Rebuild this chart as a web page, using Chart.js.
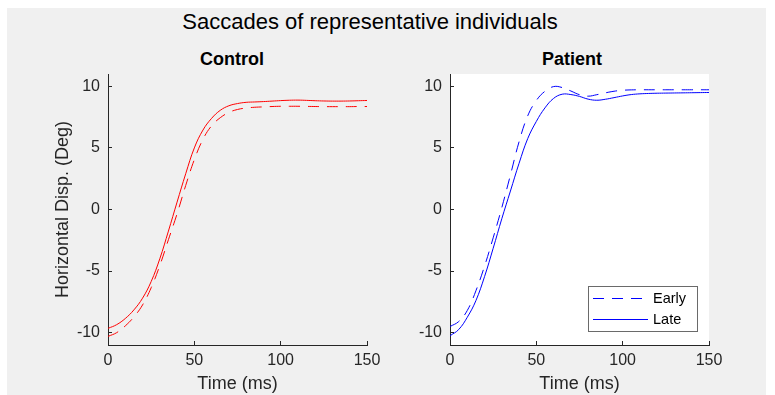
<!DOCTYPE html>
<html>
<head>
<meta charset="utf-8">
<script src="https://cdn.jsdelivr.net/npm/chart.js@4.4.1/dist/chart.umd.min.js"></script>
<style>
  html, body { margin: 0; padding: 0; background: #fff; }
  body { width: 775px; height: 395px; position: relative; overflow: hidden;
         font-family: 'Liberation Sans', Arial, Helvetica, sans-serif; }
  #figure { position: absolute; left: 7px; top: 8px; width: 759px; height: 387px; background: #f0f0f0; }
  .label { position: absolute; white-space: nowrap; transform: translateX(-50%); color: #000; }
  #suptitle { left: 370px; top: 9px; font-size: 22px; line-height: 26px; }
  .subtitle { top: 48px; font-size: 18px; line-height: 22px; font-weight: bold; }
  canvas { position: absolute; top: 0; }
</style>
</head>
<body>
<div id="figure"></div>
<div id="suptitle" class="label">Saccades of representative individuals</div>
<div class="label subtitle" style="left:232px">Control</div>
<div class="label subtitle" style="left:572px">Patient</div>
<canvas id="control" width="400" height="395" style="left:0"></canvas>
<canvas id="patient" width="385" height="395" style="left:390px"></canvas>
<script>
// time base of the traces (ms)
const timeMs = [0, 5, 10, 15, 20, 25, 30, 35, 40, 45, 50, 55, 60, 65, 70, 75,
                80, 85, 90, 95, 100, 105, 110, 115, 120, 125, 130, 135, 140, 145, 150];

// horizontal eye position (deg)
const controlEarly = [-10.3, -10.0, -9.45, -8.72, -7.75, -6.35, -4.55, -2.45, -0.35, 1.95, 4.05,
                      5.7, 6.8, 7.45, 7.88, 8.12, 8.24, 8.3, 8.33, 8.36, 8.38, 8.38, 8.38,
                      8.37, 8.36, 8.35, 8.35, 8.35, 8.35, 8.36, 8.36];
const controlLate = [-9.65, -9.35, -8.85, -8.15, -7.2, -5.85, -4.0, -1.75, 0.6, 2.9, 5.0,
                     6.45, 7.4, 8.05, 8.42, 8.6, 8.7, 8.73, 8.76, 8.8, 8.84, 8.87, 8.88,
                     8.86, 8.83, 8.81, 8.8, 8.8, 8.81, 8.83, 8.85];
const patientEarly = [-9.5, -9.1, -8.2, -6.6, -4.6, -2.3, 0.15, 2.8, 5.5, 7.6, 8.85,
                      9.6, 9.98, 9.9, 9.62, 9.32, 9.2, 9.32, 9.47, 9.6, 9.68, 9.71, 9.72,
                      9.72, 9.72, 9.72, 9.72, 9.72, 9.72, 9.72, 9.72];
const patientLate = [-10.25, -9.75, -8.75, -7.4, -5.45, -3.15, -0.75, 1.5, 3.75, 5.75, 7.15,
                     8.25, 9.02, 9.36, 9.33, 9.18, 8.96, 8.87, 8.95, 9.08, 9.22, 9.33, 9.39,
                     9.42, 9.44, 9.45, 9.46, 9.47, 9.48, 9.49, 9.5];

const seriesNames = ['Early', 'Late'];
const xTicks = [0, 50, 100, 150];
const yTicks = [-10, -5, 0, 5, 10];

const FONT = "'Liberation Sans', Arial, Helvetica, sans-serif";
const AXIS_COLOR = '#262626';
const EARLY_DASH = [11, 8];

function points(values) {
  return timeMs.map((t, i) => ({ x: t, y: values[i] }));
}

function traces(color, early, late) {
  const common = { borderColor: color, backgroundColor: color, borderWidth: 1,
                   pointRadius: 0, tension: 0.4, fill: false };
  return [
    { ...common, label: seriesNames[0], data: points(early), borderDash: EARLY_DASH },
    { ...common, label: seriesNames[1], data: points(late) }
  ];
}

function scales(yWidth, yTitle) {
  return {
    x: {
      type: 'linear', min: 0, max: 150,
      afterBuildTicks: s => { s.ticks = xTicks.map(v => ({ value: v })); },
      afterFit: s => { s.height = 50; },
      grid: { drawOnChartArea: false, tickLength: -4, color: AXIS_COLOR },
      border: { color: AXIS_COLOR },
      ticks: { color: AXIS_COLOR, font: { family: FONT, size: 16 }, padding: 10, maxRotation: 0 },
      title: { display: true, text: 'Time (ms)', color: AXIS_COLOR,
               font: { family: FONT, size: 18 }, padding: { top: 0, bottom: 0 } }
    },
    y: {
      type: 'linear', min: -11, max: 11,
      afterBuildTicks: s => { s.ticks = yTicks.map(v => ({ value: v })); },
      afterFit: s => { s.width = yWidth; },
      grid: { drawOnChartArea: false, tickLength: -4, color: AXIS_COLOR },
      border: { color: AXIS_COLOR },
      ticks: { color: AXIS_COLOR, font: { family: FONT, size: 16 }, padding: 12 },
      title: { display: !!yTitle, text: yTitle || '', color: AXIS_COLOR,
               font: { family: FONT, size: 18 }, padding: { top: 12, bottom: 0 } }
    }
  };
}

// white axes background (patient panel only)
const axesFill = {
  id: 'axesFill',
  beforeDraw(chart, args, opts) {
    if (!opts.color) return;
    const { ctx, chartArea: a } = chart;
    ctx.save();
    ctx.fillStyle = opts.color;
    ctx.fillRect(a.left, a.top, a.right - a.left, a.bottom - a.top);
    ctx.restore();
  }
};

// boxed legend with line samples, placed in the lower right of the axes
const boxLegend = {
  id: 'boxLegend',
  afterDraw(chart, args, opts) {
    if (!opts.display) return;
    const { ctx } = chart;
    const { x, y, w, h } = opts.box;
    ctx.save();
    ctx.fillStyle = '#fff';
    ctx.fillRect(x, y, w, h);
    ctx.strokeStyle = '#6a6a6a';
    ctx.lineWidth = 1;
    ctx.strokeRect(x + 0.5, y + 0.5, w, h);
    chart.data.datasets.forEach((ds, i) => {
      const ly = opts.rows[i];
      ctx.strokeStyle = ds.borderColor;
      ctx.lineWidth = ds.borderWidth;
      ctx.setLineDash(ds.borderDash || []);
      ctx.beginPath();
      ctx.moveTo(x + 5, ly);
      ctx.lineTo(x + 60, ly);
      ctx.stroke();
      ctx.setLineDash([]);
      ctx.fillStyle = '#000';
      ctx.font = `14.5px ${FONT}`;
      ctx.textBaseline = 'middle';
      ctx.fillText(ds.label, x + 65, ly);
    });
    ctx.restore();
  }
};

function panel(id, datasets, opts) {
  return new Chart(document.getElementById(id), {
    type: 'line',
    data: { datasets },
    options: {
      responsive: false,
      animation: false,
      events: [],
      layout: { padding: opts.padding },
      scales: scales(opts.yWidth, opts.yTitle),
      plugins: {
        legend: { display: false },
        tooltip: { enabled: false },
        axesFill: { color: opts.fill },
        boxLegend: opts.legend || { display: false }
      }
    },
    plugins: [axesFill, boxLegend]
  });
}

panel('control', traces('#ff0000', controlEarly, controlLate), {
  padding: { top: 74, left: 40, right: 33, bottom: 0 },
  yWidth: 68,
  yTitle: 'Horizontal Disp. (Deg)'
});

panel('patient', traces('#0000ff', patientEarly, patientLate), {
  padding: { top: 74, left: 20, right: 66, bottom: 0 },
  yWidth: 40,
  fill: '#fff',
  legend: { display: true, box: { x: 198, y: 286, w: 109, h: 45 }, rows: [298.5, 319.5] }
});
</script>
</body>
</html>
